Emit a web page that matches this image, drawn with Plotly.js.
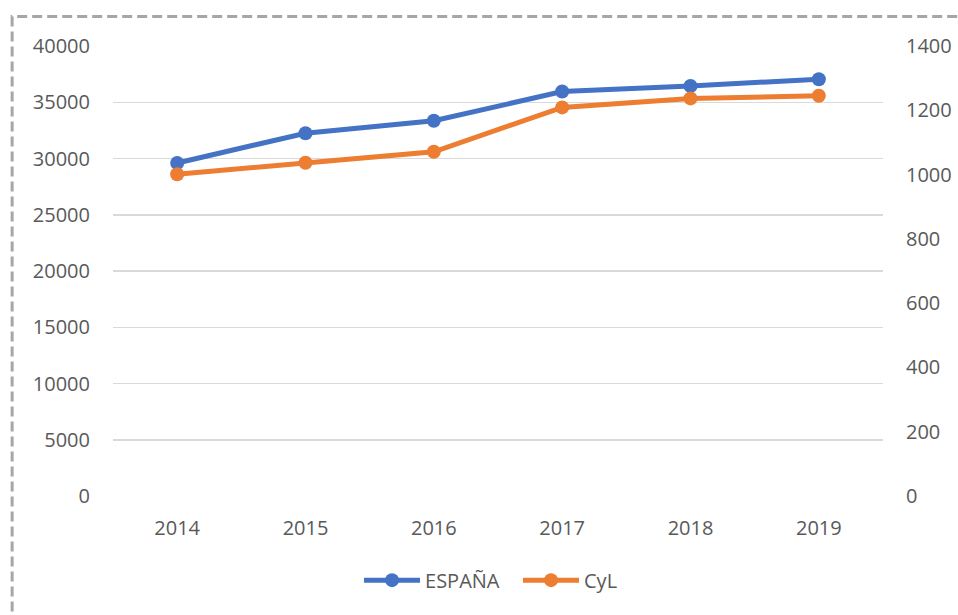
<!DOCTYPE html>
<html>
<head>
<meta charset="utf-8">
<script src="https://cdn.plot.ly/plotly-3.0.1.min.js"></script>
<style>
html,body{margin:0;padding:0;background:#fff;}
#chart{width:958px;height:615px;}
</style>
</head>
<body>
<div id="chart"></div>
<script>
const years = ["2014", "2015", "2016", "2017", "2018", "2019"];
const espana = [29600, 32250, 33350, 35950, 36450, 37050];
const cyl = [1001, 1037, 1071, 1209, 1237, 1245];
const leftTicks = [0, 5000, 10000, 15000, 20000, 25000, 30000, 35000, 40000];
const rightTicks = [0, 200, 400, 600, 800, 1000, 1200, 1400];

const fontFam = '"Open Sans", "Liberation Sans", sans-serif';
const txtColor = '#595959';

const traces = [
  {
    x: years, y: espana, name: 'ESPAÑA', type: 'scatter', mode: 'lines+markers',
    line: {color: '#4472C4', width: 5}, marker: {color: '#4472C4', size: 14},
    yaxis: 'y'
  },
  {
    x: years, y: cyl, name: 'CyL', type: 'scatter', mode: 'lines+markers',
    line: {color: '#ED7D31', width: 5}, marker: {color: '#ED7D31', size: 14},
    yaxis: 'y2'
  }
];

const layout = {
  width: 958, height: 615,
  margin: {l: 113, r: 75, t: 46, b: 119},
  paper_bgcolor: '#ffffff', plot_bgcolor: '#ffffff',
  font: {family: fontFam, size: 20, color: txtColor},
  showlegend: true,
  legend: {
    orientation: 'h', x: 0.526, xanchor: 'center', y: -0.187, yanchor: 'middle',
    font: {family: fontFam, size: 20, color: txtColor}, itemwidth: 56,
    entrywidth: 88, traceorder: 'normal'
  },
  xaxis: {
    type: 'category', range: [-0.5, 5.5], showgrid: false, zeroline: false,
    showline: false, ticks: '', ticklabelstandoff: 18,
    tickfont: {family: fontFam, size: 20, color: txtColor}
  },
  yaxis: {
    range: [0, 40000], tickmode: 'array', tickvals: leftTicks, ticktext: leftTicks.map(String),
    showgrid: true, gridcolor: '#d9d9d9', gridwidth: 1.5, zeroline: false, showline: false,
    ticks: '', ticklabelstandoff: 22,
    tickfont: {family: fontFam, size: 20, color: txtColor}
  },
  yaxis2: {
    range: [0, 1400], overlaying: 'y', side: 'right', tickmode: 'array',
    tickvals: rightTicks, ticktext: rightTicks.map(String),
    showgrid: false, zeroline: false, showline: false, ticks: '', ticklabelstandoff: 22,
    tickfont: {family: fontFam, size: 20, color: txtColor}
  },
  shapes: [
    {
      type: 'rect', xref: 'paper', yref: 'paper',
      x0: -0.131, x1: 1.12, y0: -0.32, y1: 1.0656,
      line: {color: '#a6a6a6', width: 3, dash: '10px,5px'},
      fillcolor: 'rgba(0,0,0,0)', layer: 'below'
    }
  ]
};

Plotly.newPlot('chart', traces, layout, {displayModeBar: false, staticPlot: true});
</script>
</body>
</html>
